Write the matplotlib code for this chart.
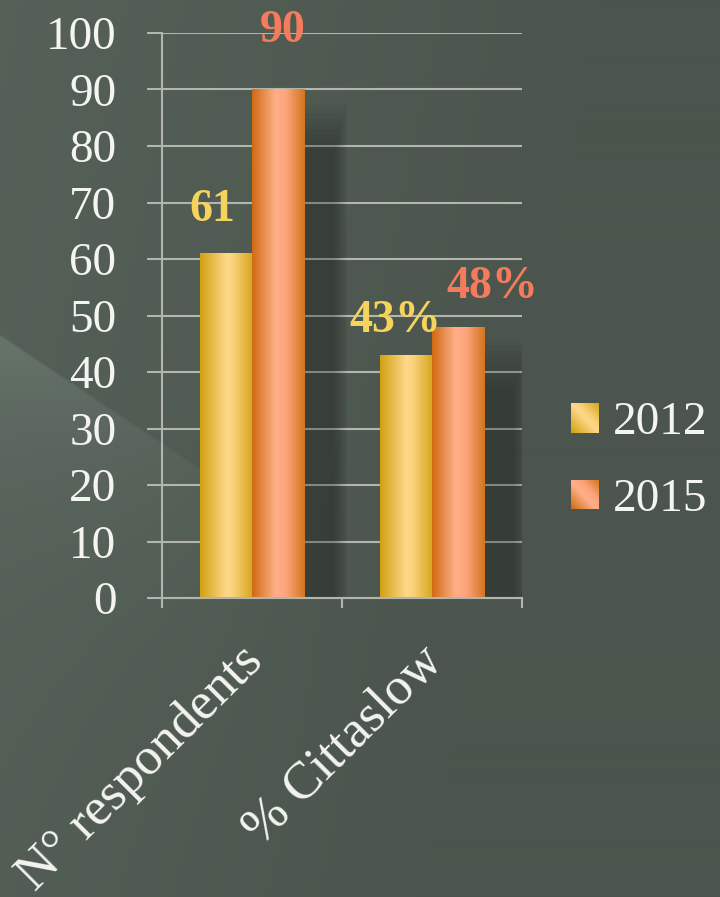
import numpy as np
import matplotlib
matplotlib.use("Agg")
import matplotlib.pyplot as plt
from matplotlib.colors import LinearSegmentedColormap
from matplotlib.patches import Patch, Rectangle
from matplotlib.transforms import ScaledTranslation

# ---- data ----
categories = ["N° respondents", "% Cittaslow"]
series_names = ["2012", "2015"]
values_2012 = [61, 43]
values_2015 = [90, 48]
labels_2012 = ["61", "43%"]
labels_2015 = ["90", "48%"]
y_ticks = [0, 10, 20, 30, 40, 50, 60, 70, 80, 90, 100]

# ---- style ----
SERIF = ["Liberation Serif", "DejaVu Serif"]
GRID_C = "#b3b5af"
cmap_2012 = LinearSegmentedColormap.from_list(
    "g12", [(0, "#d2a012"), (0.5, "#fdd888"), (0.62, "#fbd27c"), (1, "#d6a51c")])
cmap_2015 = LinearSegmentedColormap.from_list(
    "g15", [(0, "#d06a10"), (0.45, "#ffb08a"), (0.65, "#fba47a"), (1, "#d4741e")])
label_col = ["#f6d35c", "#f47c5c"]
# pixel offsets of value labels relative to bar top-centre
off_2012 = [(-14, 32), (-11, 23)]
off_2015 = [(5, 47), (34, 29)]

W, H = 720, 897
fig = plt.figure(figsize=(W / 100, H / 100), dpi=100)

# ---- background ----
bg = fig.add_axes([0, 0, 1, 1], zorder=-10)
yy, xx = np.mgrid[0:H, 0:W].astype(float)
base = np.array([0x4b, 0x55, 0x4d]) / 255.0
light = 0.045 * np.clip(1 - (xx / W) * 1.2 - (yy / H) * 0.3, 0, 1)
d = yy - (335 + 0.67 * xx)
streak = np.where(d > 0, np.exp(-d / 120.0), 0) * np.clip(1 - xx / 320.0, 0, 1) ** 1.3 * 0.085
streak *= np.clip((d + 3) / 6.0, 0, 1)
img = base[None, None, :] + (light + streak)[:, :, None] * np.array([0.9, 1.0, 0.95])[None, None, :]
bg.imshow(np.clip(img, 0, 1), extent=[0, 1, 0, 1], aspect="auto", origin="upper")
bg.set_axis_off()

# ---- main axes ----
ax = fig.add_axes([162 / W, 1 - 598 / H, 360 / W, 565 / H])
ax.patch.set_alpha(0)
x = np.arange(len(categories))
bw = 0.29
b1 = ax.bar(x - bw / 2, values_2012, bw, color="#f2c65a", zorder=3, label=series_names[0])
b2 = ax.bar(x + bw / 2, values_2015, bw, color="#f49a68", zorder=3, label=series_names[1])

grad = np.linspace(0, 1, 256)[None, :]
for bars, cm in ((b1, cmap_2012), (b2, cmap_2015)):
    for bar in bars:
        x0, y0 = bar.get_x(), bar.get_y()
        w, h = bar.get_width(), bar.get_height()
        im = ax.imshow(grad, cmap=cm, extent=[x0, x0 + w, y0, y0 + h],
                       aspect="auto", zorder=3.5, interpolation="bilinear")
        im.set_clip_path(bar)
        # soft drop shadow to the right of the bar
        for k in range(10):
            e = (k - 4) * 0.008
            ax.add_patch(Rectangle((x0 + 0.08 - e, 0), w + 0.12 + 2 * e,
                                   max(h - 7 + (k - 4) * 0.9, 0),
                                   facecolor="black", edgecolor="none",
                                   alpha=0.028, zorder=2.5))

ax.set_xlim(-0.5, len(categories) - 0.5)
ax.set_ylim(0, 100)

for bars, labs, offs, col in ((b1, labels_2012, off_2012, label_col[0]),
                              (b2, labels_2015, off_2015, label_col[1])):
    for bar, lab, (dx, dy) in zip(bars, labs, offs):
        ax.annotate(lab, xy=(bar.get_x() + bar.get_width() / 2, bar.get_height()),
                    xytext=(dx, dy), textcoords="offset pixels", ha="center",
                    va="baseline", fontsize=33, fontweight="bold", color=col,
                    family=SERIF, zorder=5, annotation_clip=False)

# axes styling
for s in ("top", "right"):
    ax.spines[s].set_visible(False)
for s in ("left", "bottom"):
    ax.spines[s].set_color(GRID_C)
    ax.spines[s].set_linewidth(1.5)
    ax.spines[s].set_zorder(4)
ax.set_yticks(y_ticks)
ax.yaxis.grid(True, color=GRID_C, linewidth=1.5, zorder=0)
ax.set_axisbelow(True)
ax.tick_params(axis="y", length=10.8, width=1.5, color=GRID_C, pad=22,
               labelsize=34, labelcolor="#f4f4f0")
for t in ax.get_yticklabels():
    t.set_family(SERIF)

ax.set_xticks(np.arange(len(categories) + 1) - 0.5)
ax.set_xticklabels([""] * (len(categories) + 1))
ax.tick_params(axis="x", which="major", length=7, width=1.5, color=GRID_C)
ax.set_xticks(x, minor=True)
ax.set_xticklabels(categories, minor=True, rotation=45, ha="right",
                   rotation_mode="anchor", fontsize=38, color="#f4f4f0", family=SERIF)
ax.tick_params(axis="x", which="minor", length=0, pad=28)
shift = ScaledTranslation(-14 / 100, 0, fig.dpi_scale_trans)
for t in ax.get_xticklabels(minor=True):
    t.set_transform(t.get_transform() + shift)

# legend
handles = [Patch(facecolor="#f2c65a"), Patch(facecolor="#f49a68")]
leg = fig.legend(handles, series_names, loc="upper left",
                 bbox_to_anchor=(571 / W, 1 - 402 / H), frameon=False,
                 prop={"family": SERIF, "size": 34}, handlelength=0.59,
                 handleheight=0.59, handletextpad=0.3, labelspacing=0.72,
                 borderpad=0, borderaxespad=0)
for t in leg.get_texts():
    t.set_color("#f4f4f0")

fig.canvas.draw()
uu, vv = np.meshgrid(np.linspace(0, 1, 64), np.linspace(1, 0, 64))
dg = (uu + vv) / 2
for p, cm in zip(leg.get_patches(), (cmap_2012, cmap_2015)):
    bb = p.get_window_extent().transformed(fig.transFigure.inverted())
    lax = fig.add_axes([bb.x0, bb.y0, bb.width, bb.height], zorder=20)
    lax.imshow(dg, cmap=cm, aspect="auto", interpolation="bilinear")
    lax.set_axis_off()

fig.savefig("out.png", dpi=100)
